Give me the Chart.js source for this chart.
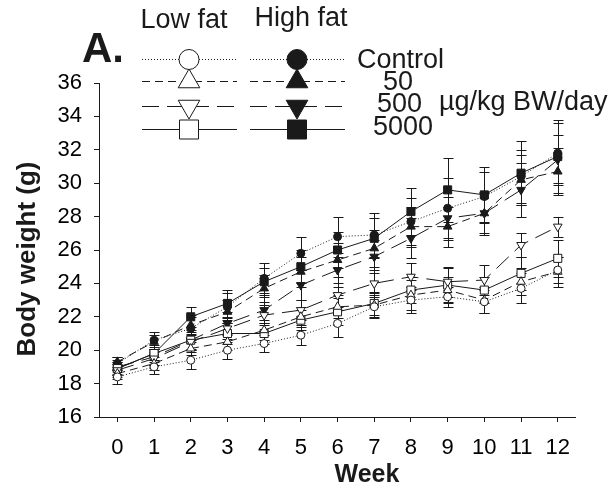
<!DOCTYPE html>
<html>
<head>
<meta charset="utf-8">
<script src="https://cdn.jsdelivr.net/npm/chart.js@4.4.1/dist/chart.umd.min.js"></script>
<style>
  html, body { margin: 0; padding: 0; background: #fff; }
</style>
</head>
<body>
<canvas id="myChart" width="615" height="488"></canvas>
<script>
// weeks on the x axis
var weeks = [0, 1, 2, 3, 4, 5, 6, 7, 8, 9, 10, 11, 12];
var yTicks = [16, 18, 20, 22, 24, 26, 28, 30, 32, 34, 36];

// body weight (g), low fat diet
var lfControl = [18.4, 19.0, 19.4, 20.0, 20.4, 20.9, 21.6, 22.6, 23.0, 23.2, 22.9, 23.7, 24.8];
var lf50      = [18.6, 19.2, 20.1, 20.5, 21.2, 22.0, 22.6, 22.7, 23.3, 23.6, 23.0, 24.1, 24.7];
var lf500     = [18.8, 19.5, 20.5, 21.3, 22.1, 22.4, 23.3, 24.0, 24.4, 24.1, 24.2, 26.3, 27.4];
var lf5000    = [18.9, 19.8, 20.6, 21.0, 21.0, 21.8, 22.3, 22.8, 23.6, 23.9, 23.6, 24.6, 25.5];
// body weight (g), high fat diet
var hfControl = [19.2, 20.6, 21.3, 22.6, 24.3, 25.8, 26.8, 26.9, 27.7, 28.5, 29.2, 30.4, 31.8];
var hf50      = [19.3, 20.5, 21.5, 22.3, 23.7, 24.7, 25.4, 26.1, 27.4, 27.4, 28.2, 30.2, 30.7];
var hf500     = [19.0, 19.6, 20.6, 21.6, 22.4, 23.9, 24.8, 25.6, 26.7, 27.9, 28.2, 29.6, 31.4];
var hf5000    = [18.9, 19.8, 22.0, 22.8, 24.1, 25.0, 26.0, 26.7, 28.3, 29.6, 29.3, 30.6, 31.6];

// error bars (+/-)
var lfControlErr = [0.4, 0.4, 0.5, 0.5, 0.5, 0.6, 0.8, 0.7, 0.8, 0.6, 0.7, 0.9, 0.8];
var lf50Err      = [0.3, 0.4, 0.4, 0.5, 0.6, 0.6, 0.7, 0.7, 0.9, 0.8, 0.8, 0.8, 0.9];
var lf500Err     = [0.4, 0.4, 0.5, 0.6, 0.6, 0.6, 0.7, 0.8, 0.8, 0.9, 0.9, 0.7, 0.6];
var lf5000Err    = [0.4, 0.4, 0.5, 0.6, 0.6, 0.6, 0.8, 0.7, 0.8, 1.0, 0.8, 1.0, 1.1];
var hfControlErr = [0.4, 0.5, 0.7, 0.8, 0.9, 1.0, 1.2, 1.3, 1.4, 1.8, 1.5, 1.6, 1.8];
var hf50Err      = [0.3, 0.4, 0.6, 0.7, 0.8, 0.9, 1.0, 1.1, 1.2, 1.2, 1.3, 1.5, 1.4];
var hf500Err     = [0.4, 0.5, 0.6, 0.7, 0.8, 0.9, 1.0, 1.0, 1.2, 1.3, 1.2, 1.6, 1.5];
var hf5000Err    = [0.4, 0.5, 0.6, 0.8, 0.8, 1.0, 1.1, 1.2, 1.4, 1.9, 1.7, 1.9, 2.2];

var doseLabels = ['Control', '50', '500', '5000'];
var FONT = '"Liberation Sans", Arial, sans-serif';
var INK = '#1a1a1a';

// line style per dose
var dashes = [[1, 2], [8, 5], [17, 8], []];
var shapes = ['circle', 'triangle', 'triangle', 'rect'];
var rotations = [0, 0, 180, 0];
var radii = [4, 5, 5, 5.7];

function series(vals) {
  return vals.map(function (v, i) { return { x: weeks[i], y: v }; });
}

function makeSet(label, vals, errs, k, filled) {
  return {
    label: label,
    data: series(vals),
    errors: errs,
    borderColor: INK,
    borderWidth: 1,
    borderDash: dashes[k],
    pointStyle: shapes[k],
    pointRotation: rotations[k],
    pointRadius: radii[k],
    pointBorderWidth: 1,
    pointBorderColor: INK,
    pointBackgroundColor: filled ? INK : '#fff',
    fill: false,
    tension: 0
  };
}

var datasets = [
  makeSet('LF Control', lfControl, lfControlErr, 0, false),
  makeSet('LF 50', lf50, lf50Err, 1, false),
  makeSet('LF 500', lf500, lf500Err, 2, false),
  makeSet('LF 5000', lf5000, lf5000Err, 3, false),
  makeSet('HF Control', hfControl, hfControlErr, 0, true),
  makeSet('HF 50', hf50, hf50Err, 1, true),
  makeSet('HF 500', hf500, hf500Err, 2, true),
  makeSet('HF 5000', hf5000, hf5000Err, 3, true)
];

// vertical error bars with caps, drawn under the markers
var errorBars = {
  id: 'errorBars',
  beforeDatasetsDraw: function (chart) {
    var ctx = chart.ctx, x = chart.scales.x, y = chart.scales.y;
    ctx.save();
    ctx.strokeStyle = INK;
    ctx.lineWidth = 1;
    ctx.setLineDash([]);
    chart.data.datasets.forEach(function (ds) {
      ds.data.forEach(function (p, i) {
        var e = ds.errors[i];
        var px = Math.round(x.getPixelForValue(p.x)) + 0.5;
        var top = Math.round(y.getPixelForValue(p.y + e)) + 0.5;
        var bot = Math.round(y.getPixelForValue(p.y - e)) + 0.5;
        ctx.beginPath();
        ctx.moveTo(px, top); ctx.lineTo(px, bot);
        ctx.moveTo(px - 5, top); ctx.lineTo(px + 5, top);
        ctx.moveTo(px - 5, bot); ctx.lineTo(px + 5, bot);
        ctx.stroke();
      });
    });
    ctx.restore();
  }
};

function marker(ctx, k, x, y, filled) {
  ctx.beginPath();
  if (k === 0) {
    ctx.arc(x, y, 10, 0, Math.PI * 2);
  } else if (k === 1 || k === 2) {
    var r = 12.5, s = k === 1 ? 1 : -1;
    ctx.moveTo(x, y - s * r);
    ctx.lineTo(x - r * 0.866, y + s * r / 2);
    ctx.lineTo(x + r * 0.866, y + s * r / 2);
    ctx.closePath();
  } else {
    ctx.rect(x - 9.5, y - 9.5, 19, 19);
  }
  ctx.fillStyle = filled ? INK : '#fff';
  ctx.fill();
  ctx.stroke();
}

// panel letter, legend block and axis titles
var decorations = {
  id: 'decorations',
  afterDraw: function (chart) {
    var ctx = chart.ctx;
    ctx.save();
    ctx.fillStyle = INK;
    ctx.textBaseline = 'alphabetic';

    ctx.font = 'bold 42px ' + FONT;
    ctx.textAlign = 'left';
    ctx.fillText('A.', 82, 62);

    ctx.font = '27px ' + FONT;
    ctx.textAlign = 'center';
    ctx.fillText('Low fat', 184, 28);
    ctx.fillText('High fat', 301, 26);

    var rowsY = [59.5, 81.5, 106.5, 129.5];
    var textBase = [68, 90, 112, 135];
    var textLeft = [357, 383, 377, 373];
    ctx.strokeStyle = INK;
    ctx.lineWidth = 1;
    for (var k = 0; k < 4; k++) {
      var yy = rowsY[k];
      ctx.setLineDash(dashes[k]);
      ctx.beginPath();
      ctx.moveTo(142, yy); ctx.lineTo(237, yy);
      ctx.moveTo(250, yy); ctx.lineTo(345, yy);
      ctx.stroke();
      ctx.setLineDash([]);
      marker(ctx, k, 189, yy, false);
      marker(ctx, k, 297, yy, true);
      ctx.fillStyle = INK;
      ctx.textAlign = 'left';
      ctx.fillText(doseLabels[k], textLeft[k], textBase[k]);
    }
    ctx.fillText('\u00b5g/kg BW/day', 439, 110);

    ctx.font = 'bold 25px ' + FONT;
    ctx.textAlign = 'center';
    ctx.fillText('Week', 367, 482);

    ctx.font = 'bold 26px ' + FONT;
    ctx.translate(35, 259);
    ctx.rotate(-Math.PI / 2);
    ctx.fillText('Body weight (g)', 0, 0);
    ctx.restore();
  }
};

var ctx = document.getElementById('myChart').getContext('2d');
var chart = new Chart(ctx, {
  type: 'line',
  data: { datasets: datasets },
  plugins: [errorBars, decorations],
  options: {
    responsive: false,
    animation: false,
    devicePixelRatio: 1,
    layout: { padding: { left: 0, top: 83, right: 40, bottom: 0 } },
    plugins: { legend: { display: false }, tooltip: { enabled: false } },
    scales: {
      x: {
        type: 'linear',
        min: -0.5,
        max: 12.47,
        afterBuildTicks: function (scale) {
          scale.ticks = weeks.map(function (w) { return { value: w }; });
        },
        afterFit: function (scale) { scale.height = 71; },
        grid: { drawOnChartArea: false, drawTicks: true, tickLength: 5, color: INK },
        border: { display: true, color: INK, width: 1 },
        ticks: { color: '#000', padding: 13, maxRotation: 0, autoSkip: false, font: { family: FONT, size: 22 } }
      },
      y: {
        min: 16,
        max: 36,
        afterBuildTicks: function (scale) {
          scale.ticks = yTicks.map(function (v) { return { value: v }; });
        },
        afterFit: function (scale) { scale.width = 99; },
        grid: { drawOnChartArea: false, drawTicks: true, tickLength: 5, color: INK },
        border: { display: true, color: INK, width: 1 },
        ticks: { color: '#000', padding: 12, font: { family: FONT, size: 22 } }
      }
    }
  }
});
</script>
</body>
</html>
